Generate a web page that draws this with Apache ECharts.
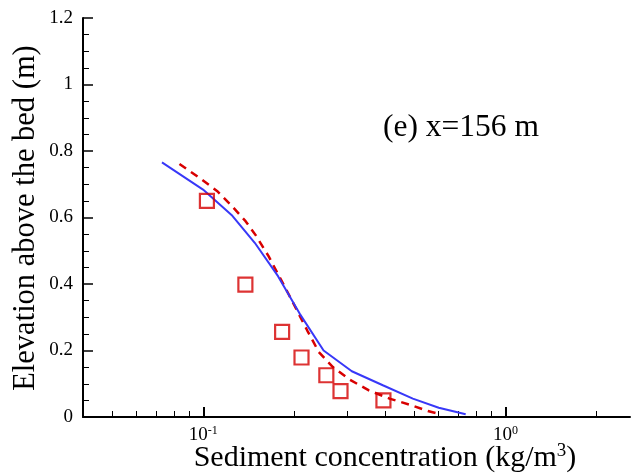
<!DOCTYPE html>
<html>
<head>
<meta charset="utf-8">
<script src="https://cdn.jsdelivr.net/npm/echarts@6/dist/echarts.min.js"></script>
<style>
html,body{margin:0;padding:0;background:#fff;}
#chart{width:635px;height:476px;}
</style>
</head>
<body>
<div id="chart"></div>
<script>
// Model 1 (solid blue)
const blueX = [0.0730, 0.0998, 0.1248, 0.148, 0.1767, 0.2083, 0.250, 0.310, 0.3926, 0.4934, 0.601, 0.738];
const blueY = [0.766, 0.684, 0.605, 0.524, 0.4235, 0.311, 0.200, 0.1375, 0.0954, 0.0554, 0.028, 0.008];
// Model 2 (dashed red)
const redX = [0.0834, 0.0977, 0.1110, 0.1240, 0.138, 0.149, 0.1644, 0.1914, 0.2208, 0.241, 0.2684, 0.305, 0.353, 0.413, 0.481, 0.553, 0.610];
const redY = [0.761, 0.7175, 0.680, 0.6357, 0.589, 0.547, 0.4837, 0.370, 0.26, 0.1956, 0.150, 0.1126, 0.080, 0.0554, 0.037, 0.018, 0.008];
// Measured (open squares)
const obsX = [0.1028, 0.1378, 0.1823, 0.2113, 0.2553, 0.2844, 0.3944];
const obsY = [0.650, 0.398, 0.256, 0.179, 0.1255, 0.078, 0.050];
// Axis ticks
const xMajorTicks = [0.1, 1];
const xMinorTicks = [0.05, 0.06, 0.07, 0.08, 0.09, 0.2, 0.3, 0.4, 0.5, 0.6, 0.7, 0.8, 0.9, 2];
const xTitle = 'Sediment concentration (kg/m';
const yTitle = 'Elevation above the bed (m)';
const panelLabel = '(e) x=156 m';

const FONT = '"Liberation Serif", "Times New Roman", serif';
const zip = (a, b) => a.map((v, i) => [v, b[i]]);

const chart = echarts.init(document.getElementById('chart'), null, {renderer: 'canvas'});
const option = {
  animation: false,
  backgroundColor: '#fff',
  grid: {left: 83, top: 18, right: 5, bottom: 59, containLabel: false},
  xAxis: [{
    type: 'log', logBase: 10, min: 0.04, max: 2.58,
    axisLine: {show: true, onZero: false, lineStyle: {color: '#000', width: 2}},
    axisTick: {show: true, inside: true, length: 10, customValues: xMajorTicks, lineStyle: {color: '#000', width: 2}},
    axisLabel: {
      show: true, margin: 8, customValues: xMajorTicks,
      formatter: v => '{b|10}{s|' + Math.round(Math.log10(v)) + '}',
      rich: {
        b: {fontFamily: FONT, fontSize: 19, color: '#000', lineHeight: 20},
        s: {fontFamily: FONT, fontSize: 12, color: '#000', verticalAlign: 'top', lineHeight: 12}
      }
    },
    splitLine: {show: false}, minorTick: {show: false}, minorSplitLine: {show: false}
  }, {
    type: 'log', logBase: 10, min: 0.04, max: 2.58, position: 'bottom', offset: 0,
    axisLine: {show: false},
    axisTick: {show: true, inside: true, length: 6, customValues: xMinorTicks, lineStyle: {color: '#000', width: 1}},
    axisLabel: {show: false},
    splitLine: {show: false}
  }],
  yAxis: {
    type: 'value', min: 0, max: 1.2, interval: 0.2,
    axisLine: {show: true, onZero: false, lineStyle: {color: '#000', width: 2}},
    axisTick: {show: true, inside: true, length: 10, lineStyle: {color: '#000', width: 1.5}},
    minorTick: {show: true, splitNumber: 4, length: 6, lineStyle: {color: '#000', width: 1}},
    axisLabel: {fontFamily: FONT, fontSize: 19, color: '#000', margin: 10},
    splitLine: {show: false}
  },
  series: [{
    type: 'line', name: 'model2', data: zip(redX, redY), xAxisIndex: 0,
    showSymbol: false, symbol: 'none',
    lineStyle: {color: '#d80000', width: 2.5, type: [8, 6]}, z: 2
  }, {
    type: 'line', name: 'model1', data: zip(blueX, blueY), xAxisIndex: 0,
    showSymbol: false, symbol: 'none',
    lineStyle: {color: '#3838f8', width: 2}, z: 3
  }, {
    type: 'scatter', name: 'measured', data: zip(obsX, obsY), xAxisIndex: 0,
    symbol: 'rect', symbolSize: 14,
    itemStyle: {color: 'rgba(0,0,0,0)', borderColor: '#d40000', borderWidth: 2.2}, z: 4
  }],
  graphic: [{
    type: 'text', left: 383, top: 112,
    style: {text: panelLabel, font: '31.5px ' + FONT, fill: '#000'}
  }, {
    type: 'text', x: 385, y: 458,
    style: {
      text: '{a|' + xTitle + '}{s|3}{a|)}', align: 'center', verticalAlign: 'middle',
      rich: {
        a: {font: '30px ' + FONT, fill: '#000', lineHeight: 32},
        s: {font: '19px ' + FONT, fill: '#000', verticalAlign: 'top', lineHeight: 19}
      }
    }
  }, {
    type: 'text', x: 26, y: 218, rotation: Math.PI / 2,
    style: {text: yTitle, font: '30.5px ' + FONT, fill: '#000', align: 'center', verticalAlign: 'middle'}
  }, {
    type: 'text', x: 490, y: -18,
    style: {
      text: '{a|(kg/m}{s|3}{a|)}', verticalAlign: 'middle',
      rich: {
        a: {font: '30px ' + FONT, fill: '#000', lineHeight: 32},
        s: {font: '19px ' + FONT, fill: '#000', verticalAlign: 'top', lineHeight: 19}
      }
    }
  }]
};
chart.setOption(option);
</script>
</body>
</html>
